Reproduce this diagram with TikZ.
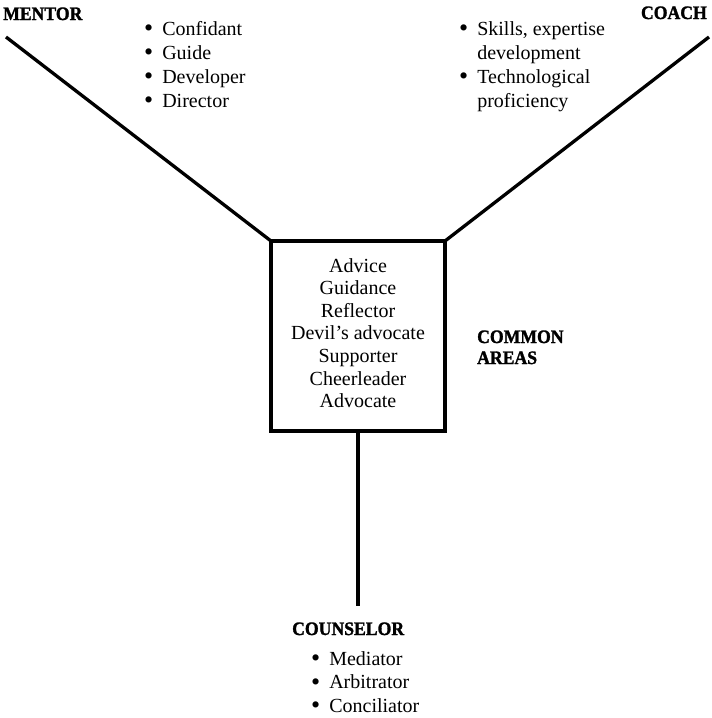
\documentclass[tikz,border=0pt]{standalone}
\usepackage{fontspec}
\usepackage{graphicx}
\setmainfont{Liberation Serif}
\newfontfamily\headfont[FakeStretch=0.93, FakeBold=1.5]{Liberation Serif Bold}
\newcommand\listdot{\raisebox{-1.8pt}{\scalebox{1.3}{\textbullet}}}
\begin{document}
\begin{tikzpicture}[x=1pt,y=1pt,
  link/.style={line width=3.3pt},
  hub/.style={draw, line width=3.3pt, outer sep=0pt, inner sep=0pt,
    minimum width=174pt, minimum height=190pt},
  title/.style={font=\fontsize{19}{21}\headfont, inner sep=0pt},
  items/.style={font=\fontsize{20}{24}\selectfont, inner sep=0pt, anchor=base west},
]
\useasboundingbox (0,0) rectangle (712,-718);

% central box of shared roles
\node[hub] (common) at (358,-336) {};
\node[font=\fontsize{20}{22.6}\selectfont, inner sep=0pt, anchor=base] (commonlist) at (358,-272)
  {\begin{tabular}[t]{@{}c@{}}Advice\\ Guidance\\ Reflector\\ Devil’s advocate\\ Supporter\\ Cheerleader\\ Advocate\end{tabular}};
\node[title, anchor=base west] (commonlabel) at (477,-343)
  {\begin{tabular}[t]{@{}l@{}}COMMON\\ AREAS\end{tabular}};

% free ends of the three arms
\coordinate (mentorEnd) at (6,-37);
\coordinate (coachEnd) at (709,-37);
\coordinate (counselEnd) at (358,-606);

\draw[link] (mentorEnd) -- (common.north west);
\draw[link] (coachEnd) -- (common.north east);
\draw[link] (common.south) -- (counselEnd);

% mentor
\node[title, anchor=base west] (mentor) at (3,-20) {MENTOR};
\node[items] (mentorlist) at (144,-35)
  {\begin{tabular}[t]{@{}l@{\hspace{9pt}}l@{}}
   \listdot & Confidant\\ \listdot & Guide\\ \listdot & Developer\\ \listdot & Director
   \end{tabular}};

% coach
\node[title, anchor=base east] (coach) at (707,-19) {COACH};
\node[items] (coachlist) at (459,-35)
  {\begin{tabular}[t]{@{}l@{\hspace{9pt}}l@{}}
   \listdot & Skills, expertise\\ & development\\ \listdot & Technological\\ & proficiency
   \end{tabular}};

% counselor
\node[title, anchor=base west] (counselor) at (292,-635) {COUNSELOR};
\node[items, font=\fontsize{20}{23.5}\selectfont] (counselorlist) at (311,-665)
  {\begin{tabular}[t]{@{}l@{\hspace{9pt}}l@{}}
   \listdot & Mediator\\ \listdot & Arbitrator\\ \listdot & Conciliator
   \end{tabular}};
\end{tikzpicture}
\end{document}
